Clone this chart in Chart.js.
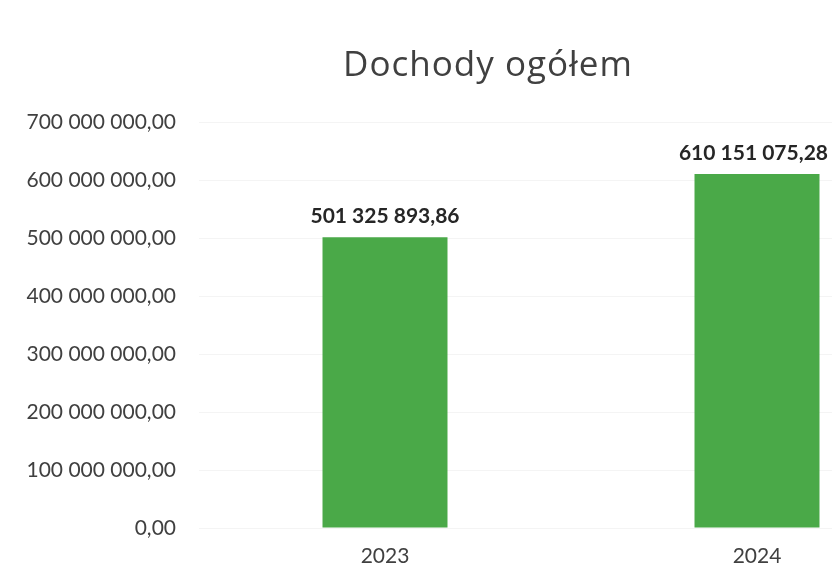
<!DOCTYPE html>
<html>
<head>
<meta charset="utf-8">
<script src="https://cdn.jsdelivr.net/npm/chart.js@4"></script>
<style>
    html, body { margin: 0; padding: 0; background: #fff; overflow: hidden; }
    #wrap { position: absolute; left: 0; top: 0; width: 976px; height: 570px; }
</style>
</head>
<body>
<div id="wrap"><canvas id="dochodyChart"></canvas></div>
<script>
const years = ['2023', '2024'];
const dochody = [501325893.86, 610151075.28];
const yTicks = [0, 100000000, 200000000, 300000000, 400000000, 500000000, 600000000, 700000000];
const chartTitle = 'Dochody ogółem';

const FONT = 'Lato, "Open Sans", sans-serif';

// 501 325 893,86
function formatPl(v) {
    const parts = v.toFixed(2).split('.');
    return parts[0].replace(/\B(?=(\d{3})+(?!\d))/g, ' ') + ',' + parts[1];
}

const valueLabels = {
    id: 'valueLabels',
    afterDatasetsDraw(chart) {
        const ctx = chart.ctx;
        const meta = chart.getDatasetMeta(0);
        ctx.save();
        ctx.font = 'bold 21px ' + FONT;
        ctx.fillStyle = '#262626';
        ctx.textAlign = 'center';
        ctx.textBaseline = 'bottom';
        meta.data.forEach((bar, i) => {
            const txt = formatPl(dochody[i]);
            const half = ctx.measureText(txt).width / 2;
            // keep inside the visible 832px window
            const x = Math.min(bar.x, 828 - half);
            ctx.fillText(txt, x, bar.y - 10);
        });
        ctx.restore();
    }
};

// title centred on the whole (wider) excel chart, not on the plot
const centredTitle = {
    id: 'centredTitle',
    afterDraw(chart) {
        const ctx = chart.ctx;
        ctx.save();
        ctx.font = '35px "Open Sans", sans-serif';
        ctx.letterSpacing = '1px';
        ctx.fillStyle = '#404040';
        ctx.textAlign = 'center';
        ctx.textBaseline = 'middle';
        ctx.fillText(chartTitle, chart.width / 2, 66);
        ctx.restore();
    }
};

document.addEventListener('DOMContentLoaded', () => {
    const ctx = document.getElementById('dochodyChart').getContext('2d');
    new Chart(ctx, {
        type: 'bar',
        data: {
            labels: years,
            datasets: [{
                data: dochody,
                backgroundColor: '#4aa948',
                borderWidth: 0,
                categoryPercentage: 1,
                barPercentage: 0.336
            }]
        },
        options: {
            responsive: true,
            maintainAspectRatio: false,
            animation: false,
            layout: { padding: { left: 0, right: 33, top: 122, bottom: 0 } },
            scales: {
                y: {
                    min: 0,
                    max: 700000000,
                    afterBuildTicks: axis => { axis.ticks = yTicks.map(v => ({ value: v })); },
                    afterFit: axis => { axis.width = 199; },
                    grid: { color: '#f4f4f4', drawTicks: false },
                    border: { display: false },
                    ticks: {
                        padding: 23,
                        color: '#404040',
                        font: { family: FONT, size: 21 },
                        callback: v => formatPl(v)
                    }
                },
                x: {
                    afterFit: axis => { axis.height = 42; },
                    grid: { display: false, drawTicks: false },
                    border: { display: false },
                    ticks: {
                        padding: 16,
                        color: '#404040',
                        font: { family: FONT, size: 21 }
                    }
                }
            },
            plugins: {
                legend: { display: false },
                tooltip: { enabled: false },
                title: { display: false }
            }
        },
        plugins: [valueLabels, centredTitle]
    });
});
</script>
</body>
</html>
